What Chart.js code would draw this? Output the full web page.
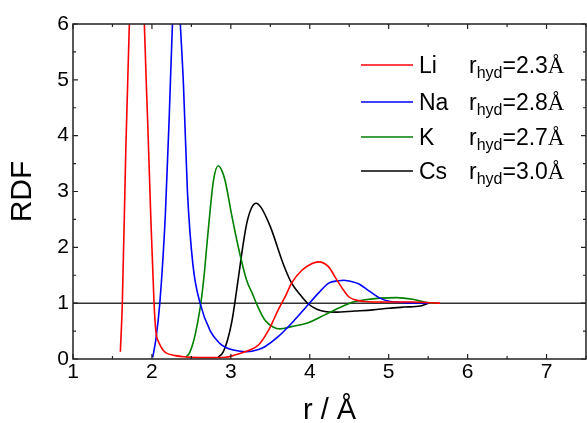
<!DOCTYPE html>
<html>
<head>
<meta charset="utf-8">
<script src="https://cdn.jsdelivr.net/npm/chart.js@4.4.1/dist/chart.umd.min.js"></script>
<style>
    html, body { margin: 0; padding: 0; background: #fff; }
    #wrap { width: 587px; height: 423px; }
</style>
</head>
<body>
<div id="wrap"><canvas id="rdfChart"></canvas></div>
<script>
// RDF curves (r in Angstrom, g(r))
const liR = [1.60, 1.625, 1.67, 1.714, 1.81, 1.904, 1.945, 1.985, 2.027, 2.05, 2.09, 2.14, 2.19, 2.3, 2.4, 2.6, 2.8, 2.93, 3.05, 3.18, 3.35, 3.48, 3.60, 3.69, 3.77, 3.90, 4.03, 4.11, 4.24, 4.32, 4.41, 4.49, 4.57, 4.7, 4.9, 5.3, 5.65];
const liG = [0.13, 1.0, 3.8, 6.0, 12.0, 6.0, 4.3, 2.58, 1.0, 0.5, 0.29, 0.16, 0.1, 0.06, 0.04, 0.025, 0.025, 0.03, 0.07, 0.13, 0.25, 0.52, 0.88, 1.12, 1.36, 1.59, 1.71, 1.74, 1.65, 1.47, 1.27, 1.12, 1.06, 1.03, 1.02, 1.02, 1.0];

const naR = [2.01, 2.05, 2.10, 2.17, 2.22, 2.26, 2.31, 2.36, 2.40, 2.45, 2.52, 2.61, 2.74, 2.86, 2.93, 3.03, 3.2, 3.35, 3.43, 3.60, 3.77, 3.94, 4.11, 4.24, 4.36, 4.43, 4.55, 4.63, 4.76, 4.89, 5.02, 5.2, 5.5];
const naG = [0.03, 0.35, 1.0, 2.58, 4.37, 6.0, 7.5, 6.0, 4.9, 3.0, 1.68, 1.0, 0.5, 0.28, 0.21, 0.16, 0.13, 0.17, 0.22, 0.40, 0.64, 0.91, 1.18, 1.36, 1.40, 1.41, 1.38, 1.34, 1.21, 1.09, 1.03, 1.01, 1.0];

const kR = [2.43, 2.48, 2.53, 2.58, 2.62, 2.66, 2.70, 2.74, 2.78, 2.84, 2.89, 2.93, 3.01, 3.10, 3.20, 3.27, 3.35, 3.43, 3.54, 3.62, 3.77, 3.98, 4.19, 4.41, 4.55, 4.70, 4.89, 5.10, 5.3, 5.48, 5.6];
const kG = [0.03, 0.12, 0.33, 0.66, 1.0, 1.48, 2.1, 2.7, 3.2, 3.46, 3.36, 3.18, 2.58, 1.97, 1.41, 1.18, 0.91, 0.70, 0.57, 0.54, 0.58, 0.65, 0.79, 0.94, 1.02, 1.06, 1.09, 1.10, 1.07, 1.01, 1.0];

const csR = [2.84, 2.90, 2.96, 3.01, 3.05, 3.10, 3.15, 3.20, 3.26, 3.32, 3.38, 3.50, 3.67, 3.77, 3.88, 3.98, 4.09, 4.19, 4.32, 4.57, 4.8, 5.0, 5.2, 5.4, 5.5];
const csG = [0.03, 0.12, 0.35, 0.65, 1.0, 1.5, 2.0, 2.42, 2.7, 2.79, 2.72, 2.37, 1.68, 1.36, 1.15, 0.99, 0.89, 0.85, 0.84, 0.86, 0.88, 0.91, 0.93, 0.95, 1.0];

// g = 1 reference line
const refR = [1, 7.5];
const refG = [1, 1];

const ions = ["Li", "Na", "K", "Cs"];
const rHyd = ["2.3", "2.8", "2.7", "3.0"];
const ionColors = ["#ff0000", "#0000ff", "#008000", "#000000"];

const toXY = (xs, ys) => xs.map((v, i) => ({ x: v, y: ys[i] }));
const series = [toXY(liR, liG), toXY(naR, naG), toXY(kR, kG), toXY(csR, csG)];

Chart.defaults.font.family = "'Liberation Sans', Arial, sans-serif";
Chart.defaults.color = "#000";

// box frame plus inward ticks on all four sides
const frameTicks = {
    id: "frameTicks",
    afterDraw(chart) {
        const { ctx, chartArea: a, scales: { x, y } } = chart;
        ctx.save();
        ctx.strokeStyle = "#222";
        ctx.lineWidth = 1.5;
        ctx.strokeRect(a.left, a.top, a.right - a.left, a.bottom - a.top);
        ctx.lineWidth = 1.2;
        ctx.beginPath();
        x.ticks.forEach(t => {
            const px = x.getPixelForValue(t.value);
            const len = Number.isInteger(t.value) ? 5 : 3;
            ctx.moveTo(px, a.bottom); ctx.lineTo(px, a.bottom - len);
            ctx.moveTo(px, a.top); ctx.lineTo(px, a.top + len);
        });
        y.ticks.forEach(t => {
            const py = y.getPixelForValue(t.value);
            const len = Number.isInteger(t.value) ? 5 : 3;
            ctx.moveTo(a.left, py); ctx.lineTo(a.left + len, py);
            ctx.moveTo(a.right, py); ctx.lineTo(a.right - len, py);
        });
        ctx.stroke();
        ctx.restore();
    }
};

// legend with subscript r_hyd
const ionLegend = {
    id: "ionLegend",
    afterDraw(chart) {
        const ctx = chart.ctx;
        const rowY = [65, 102, 137, 171];
        ctx.save();
        ctx.textBaseline = "alphabetic";
        ions.forEach((ion, i) => {
            const yMid = rowY[i];
            ctx.strokeStyle = ionColors[i];
            ctx.lineWidth = 1.6;
            ctx.beginPath();
            ctx.moveTo(361, yMid);
            ctx.lineTo(413, yMid);
            ctx.stroke();

            const base = yMid + 8;
            ctx.fillStyle = "#000";
            ctx.font = "23px 'Liberation Sans', Arial, sans-serif";
            ctx.fillText(ion, 419, base);

            let px = 469;
            ctx.fillText("r", px, base);
            px += ctx.measureText("r").width;
            ctx.font = "16px 'Liberation Sans', Arial, sans-serif";
            ctx.fillText("hyd", px, base + 5);
            px += ctx.measureText("hyd").width;
            ctx.font = "23px 'Liberation Sans', Arial, sans-serif";
            ctx.fillText("=" + rHyd[i], px, base);
            px += ctx.measureText("=" + rHyd[i]).width;
            ctx.font = "23px 'Liberation Serif', 'Times New Roman', serif";
            ctx.fillText("Å", px, base);
        });
        ctx.restore();
    }
};

const lineSet = (label, data, color) => ({
    label: label,
    data: data,
    borderColor: color,
    borderWidth: 1.6,
    pointRadius: 0,
    showLine: true,
    fill: false,
    cubicInterpolationMode: "monotone"
});

new Chart(document.getElementById("rdfChart"), {
    type: "scatter",
    data: {
        datasets: [
            lineSet(ions[0], series[0], ionColors[0]),
            lineSet(ions[1], series[1], ionColors[1]),
            lineSet(ions[2], series[2], ionColors[2]),
            lineSet(ions[3], series[3], ionColors[3]),
            {
                label: "g=1",
                data: toXY(refR, refG),
                borderColor: "#333",
                borderWidth: 1.5,
                pointRadius: 0,
                showLine: true
            }
        ]
    },
    options: {
        responsive: true,
        maintainAspectRatio: false,
        animation: false,
        layout: { padding: { top: 24, right: 1, left: 0, bottom: 0 } },
        plugins: {
            legend: { display: false },
            tooltip: { enabled: false }
        },
        scales: {
            x: {
                type: "linear",
                min: 1,
                max: 7.5,
                grid: { display: false, drawTicks: false },
                border: { display: false },
                ticks: {
                    stepSize: 0.5,
                    autoSkip: false,
                    maxRotation: 0,
                    padding: 1,
                    font: { size: 21 },
                    callback: v => Number.isInteger(v) ? v : ""
                },
                title: {
                    display: true,
                    text: "r / Å",
                    font: { size: 29, lineHeight: 1 },
                    padding: { top: 0, bottom: -2 }
                },
                afterFit: s => { s.height = 64; }
            },
            y: {
                type: "linear",
                min: 0,
                max: 6,
                grid: { display: false, drawTicks: false },
                border: { display: false },
                ticks: {
                    stepSize: 0.5,
                    autoSkip: false,
                    padding: 4,
                    font: { size: 21 },
                    callback: v => Number.isInteger(v) ? v : ""
                },
                title: {
                    display: true,
                    text: "RDF",
                    font: { size: 30, lineHeight: 1 },
                    padding: { top: 8, bottom: 0 }
                },
                afterFit: s => { s.width = 73; }
            }
        }
    },
    plugins: [frameTicks, ionLegend]
});
</script>
</body>
</html>
